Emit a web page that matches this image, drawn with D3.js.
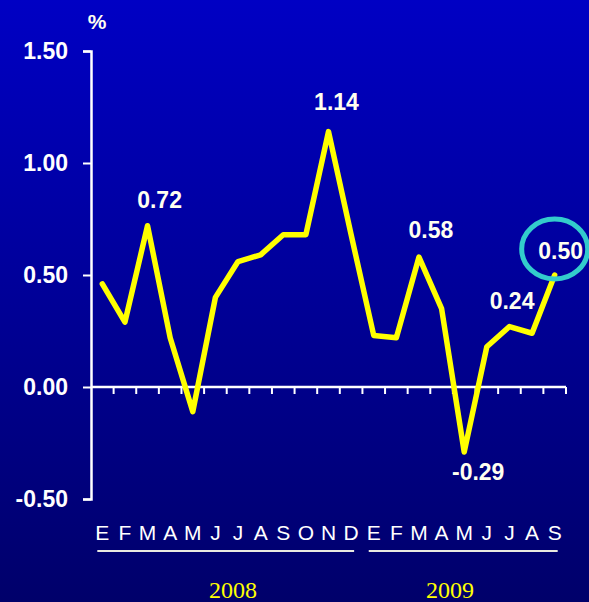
<!DOCTYPE html>
<html>
<head>
<meta charset="utf-8">
<script src="https://cdn.jsdelivr.net/npm/d3@7"></script>
<style>
  body { margin: 0; background: #000080; }
  svg { display: block; }
</style>
</head>
<body>
<script>
// months of 2008 and 2009 (spanish initials)
const months = ["E","F","M","A","M","J","J","A","S","O","N","D",
                "E","F","M","A","M","J","J","A","S"];
const values = [0.46, 0.29, 0.72, 0.22, -0.11, 0.40, 0.56, 0.59, 0.68, 0.68, 1.14, 0.68,
                0.23, 0.22, 0.58, 0.35, -0.29, 0.18, 0.27, 0.24, 0.50];
const yTicks = [-0.50, 0.00, 0.50, 1.00, 1.50];
const years = ["2008", "2009"];
// which points get a value label, and the nudge from the point
const labelled = [
  {i: 2,  dx: 12, dy: -18},
  {i: 10, dx: 8,  dy: -22},
  {i: 14, dx: 12, dy: -19},
  {i: 16, dx: 14, dy: 28},
  {i: 19, dx: -20, dy: -24},
  {i: 20, dx: 6,  dy: -16}
];

const width = 589, height = 602;
const fmt = v => d3.format(".2f")(v).replace("−", "-");

const svg = d3.select("body").append("svg")
    .attr("width", width)
    .attr("height", height);

const grad = svg.append("defs").append("linearGradient")
    .attr("id", "bg").attr("x1", 0).attr("y1", 0).attr("x2", 0).attr("y2", 1);
grad.append("stop").attr("offset", "0%").attr("stop-color", "#0000c4");
grad.append("stop").attr("offset", "100%").attr("stop-color", "#00006a");

svg.append("rect").attr("width", width).attr("height", height).attr("fill", "url(#bg)");

const x = d3.scaleBand()
    .domain(d3.range(months.length))
    .range([91, 566]);

const y = d3.scaleLinear()
    .domain([-0.5, 1.5])
    .range([499, 51]);

const cx = i => x(i) + x.bandwidth() / 2;

// y axis
const yAxis = svg.append("g")
    .attr("transform", "translate(91,0)")
    .call(d3.axisLeft(y).tickValues(yTicks).tickFormat(fmt).tickSize(8).tickPadding(15));
yAxis.select(".domain").attr("stroke", "#fff").attr("stroke-width", 2.5);
yAxis.selectAll(".tick line").attr("stroke", "#fff").attr("stroke-width", 2);
yAxis.selectAll(".tick text")
    .attr("fill", "#fff")
    .attr("font-family", "Liberation Sans, Arial, sans-serif")
    .attr("font-weight", "bold")
    .attr("font-size", 23);

// zero line with ticks between months
const xAxis = svg.append("g")
    .attr("transform", `translate(0,${y(0)})`)
    .call(d3.axisBottom(x).tickValues(d3.range(months.length)).tickSize(7).tickFormat(""));
xAxis.select(".domain").attr("stroke", "#fff").attr("stroke-width", 2.5).attr("d", "M91,0H566");
xAxis.selectAll(".tick")
    .attr("transform", d => `translate(${x(d) + x.bandwidth()},0)`);
xAxis.selectAll(".tick line").attr("stroke", "#fff").attr("stroke-width", 2);

// % label
svg.append("text")
    .attr("x", 97).attr("y", 29)
    .attr("text-anchor", "middle")
    .attr("fill", "#fffff0")
    .attr("font-family", "Liberation Sans, Arial, sans-serif")
    .attr("font-weight", "bold")
    .attr("font-size", 21)
    .text("%");

// line
const line = d3.line()
    .x((d, i) => cx(i))
    .y(d => y(d));

svg.append("path")
    .datum(values)
    .attr("fill", "none")
    .attr("stroke", "#ffff00")
    .attr("stroke-width", 5.5)
    .attr("stroke-linejoin", "round")
    .attr("stroke-linecap", "round")
    .attr("d", line);

// value labels
svg.append("g").selectAll("text")
    .data(labelled)
    .enter()
    .append("text")
    .attr("x", d => cx(d.i) + d.dx)
    .attr("y", d => y(values[d.i]) + d.dy)
    .attr("text-anchor", "middle")
    .attr("fill", "#fffff0")
    .attr("font-family", "Liberation Sans, Arial, sans-serif")
    .attr("font-weight", "bold")
    .attr("font-size", 23)
    .text(d => fmt(values[d.i]));

// highlight ring round the last value
svg.append("ellipse")
    .attr("cx", cx(20))
    .attr("cy", y(values[20]) - 26)
    .attr("rx", 33)
    .attr("ry", 30)
    .attr("fill", "none")
    .attr("stroke", "#33cccc")
    .attr("stroke-width", 5);

// month letters
svg.append("g").selectAll("text")
    .data(months)
    .enter()
    .append("text")
    .attr("x", (d, i) => cx(i))
    .attr("y", 540)
    .attr("text-anchor", "middle")
    .attr("fill", "#fff")
    .attr("font-family", "Liberation Sans, Arial, sans-serif")
    .attr("font-size", 21)
    .text(d => d);

// year underlines and labels
const yearSpans = [[0, 11], [12, 20]];
svg.append("g").selectAll("line")
    .data(yearSpans)
    .enter()
    .append("line")
    .attr("x1", d => cx(d[0]) - 5)
    .attr("x2", d => cx(d[1]) + 3)
    .attr("y1", 551).attr("y2", 551)
    .attr("stroke", "#e8e8e0")
    .attr("stroke-width", 2);

svg.append("g").selectAll("text")
    .data(years)
    .enter()
    .append("text")
    .attr("x", (d, i) => [233, 450][i])
    .attr("y", 598)
    .attr("text-anchor", "middle")
    .attr("fill", "#ffff00")
    .attr("font-family", "Liberation Serif, Times New Roman, serif")
    .attr("font-size", 24)
    .text(d => d);
</script>
</body>
</html>
